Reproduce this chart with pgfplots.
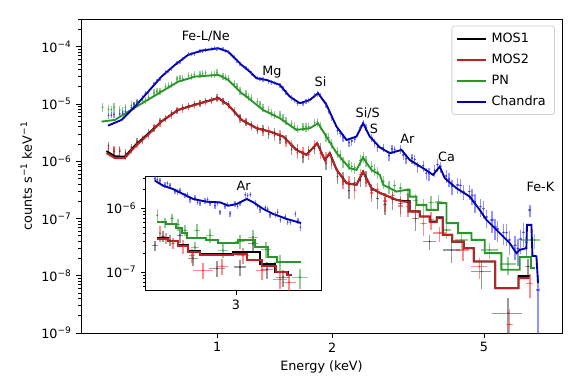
\documentclass[border=0pt]{standalone}
\usepackage{fontspec}
\setmainfont{DejaVu Sans}
\usepackage{pgfplots}
\usepackage{pgfplotstable}
\pgfplotsset{compat=1.18}

\definecolor{mosone}{RGB}{0,0,0}
\definecolor{mostwo}{RGB}{185,35,35}
\definecolor{pncol}{RGB}{40,150,40}
\definecolor{chancol}{RGB}{0,0,165}
\definecolor{chandat}{RGB}{40,40,255}
\definecolor{reddat}{RGB}{255,30,30}
\definecolor{greendat}{RGB}{40,150,40}
\definecolor{graydat}{RGB}{50,50,50}

\newcommand{\fs}{\fontsize{9.6pt}{11pt}\selectfont}

\pgfplotsset{
  datpts/.style={only marks, mark=*, mark size=0.55pt, mark options={opacity=0.5},
    error bars/x dir=both, error bars/x explicit relative,
    error bars/y dir=both, error bars/y explicit relative,
    error bars/error mark=none,
    error bars/error bar style={line width=1.0pt, opacity=0.5}},
}

% Chandra data: E F ex ey (relative errors)
\pgfplotstableread{
E F ex ey
0.519 6.32e-6 0 0.12
0.528 6.34e-6 0 0.12
0.537 6.52e-6 0 0.12
0.556 6.71e-6 0 0.12
0.566 6.89e-6 0 0.12
0.575 7.36e-6 0 0.11
0.596 8.65e-6 0 0.11
0.606 9.91e-6 0 0.10
0.617 1.052e-5 0 0.10
0.638 1.312e-5 0 0.09
0.649 1.53e-5 0 0.09
0.661 1.63e-5 0 0.09
0.684 2.26e-5 0 0.09
0.696 2.51e-5 0 0.09
0.708 2.73e-5 0 0.09
0.733 3.55e-5 0 0.08
0.746 3.84e-5 0 0.08
0.759 4.15e-5 0 0.08
0.785 5.26e-5 0 0.08
0.799 5.48e-5 0 0.08
0.813 6.11e-5 0 0.08
0.841 7.36e-5 0 0.08
0.856 7.46e-5 0 0.08
0.871 7.57e-5 0 0.08
0.902 8.34e-5 0 0.08
0.917 8.38e-5 0 0.08
0.933 8.93e-5 0 0.08
0.966 9.02e-5 0 0.08
0.983 9.38e-5 0 0.08
1.000 9.31e-5 0 0.08
1.035 9.02e-5 0 0.08
1.053 8.47e-5 0 0.08
1.072 8.05e-5 0 0.08
1.109 6.56e-5 0 0.08
1.128 5.71e-5 0 0.08
1.148 5.09e-5 0 0.08
1.189 4.29e-5 0 0.09
1.209 3.91e-5 0 0.09
1.230 3.44e-5 0 0.09
1.274 2.86e-5 0 0.09
1.296 2.74e-5 0 0.09
1.318 2.69e-5 0 0.09
1.365 2.48e-5 0 0.09
1.388 2.38e-5 0 0.09
1.413 2.33e-5 0 0.09
1.462 2.11e-5 0 0.10
1.488 1.88e-5 0 0.10
1.514 1.57e-5 0 0.10
1.567 1.28e-5 0 0.11
1.594 1.16e-5 0 0.11
1.622 1.03e-5 0 0.11
1.679 1.02e-5 0 0.11
1.708 1.11e-5 0 0.11
1.738 1.16e-5 0 0.11
1.799 1.40e-5 0 0.11
1.830 1.51e-5 0 0.11
1.862 1.42e-5 0 0.11
1.928 9.79e-6 0 0.12
1.961 7.59e-6 0 0.12
1.995 5.83e-6 0 0.13
2.065 3.44e-6 0.005 0.15
2.101 3.08e-6 0.005 0.15
2.138 2.58e-6 0.005 0.15
2.213 2.11e-6 0.005 0.17
2.252 2.24e-6 0.005 0.17
2.291 2.44e-6 0.005 0.15
2.371 3.86e-6 0.005 0.13
2.413 4.68e-6 0.005 0.13
2.455 3.88e-6 0.005 0.13
2.541 2.59e-6 0.005 0.15
2.585 2.09e-6 0.005 0.15
2.630 1.75e-6 0.005 0.17
2.723 1.72e-6 0.005 0.17
2.818 1.25e-6 0.005 0.20
2.868 1.64e-6 0.005 0.17
2.917 1.60e-6 0.005 0.17
3.020 1.63e-6 0.005 0.17
3.073 1.29e-6 0.006 0.20
3.126 1.10e-6 0.006 0.20
3.236 1.13e-6 0.006 0.20
3.292 1.07e-6 0.006 0.22
3.350 8.09e-7 0.006 0.22
3.467 8.38e-7 0.006 0.22
3.528 6.17e-7 0.007 0.25
3.589 6.11e-7 0.007 0.25
3.715 6.93e-7 0.007 0.25
3.780 8.71e-7 0.007 0.25
3.846 8.04e-7 0.007 0.22
3.981 5.51e-7 0.007 0.25
4.050 4.90e-7 0.008 0.27
4.121 3.68e-7 0.008 0.30
4.266 3.85e-7 0.008 0.30
4.340 3.80e-7 0.008 0.30
4.416 2.97e-7 0.008 0.30
4.571 2.95e-7 0.008 0.30
4.651 2.51e-7 0.009 0.32
4.732 1.95e-7 0.009 0.35
4.898 1.61e-7 0.009 0.35
4.983 1.48e-7 0.010 0.35
5.070 1.06e-7 0.010 0.35
5.248 9.46e-8 0.010 0.40
5.340 7.08e-8 0.010 0.40
5.433 6.55e-8 0.010 0.40
5.623 5.70e-8 0.010 0.40
5.722 5.62e-8 0.010 0.40
5.821 4.23e-8 0.010 0.45
6.026 3.41e-8 0.010 0.45
6.131 2.95e-8 0.010 0.50
6.237 4.37e-8 0.010 0.45
6.346 5.75e-8 0.010 0.45
6.457 3.82e-8 0.010 0.45
6.590 1.40e-7 0.010 0.25
6.918 5.6e-9 0.010 0.85
}\chandata

\pgfplotstableread{
E F ex ey
0.501 8.73e-6 0 0.18
0.519 8.05e-6 0 0.18
0.528 7.94e-6 0 0.18
0.537 8.69e-6 0 0.18
0.556 7.85e-6 0 0.17
0.566 7.53e-6 0 0.17
0.575 8.65e-6 0 0.17
0.596 9.51e-6 0 0.16
0.606 9.48e-6 0 0.16
0.617 1.04e-5 0 0.16
0.638 1.16e-5 0 0.15
0.649 1.16e-5 0 0.15
0.661 1.31e-5 0 0.15
0.684 1.58e-5 0 0.14
0.696 1.66e-5 0 0.14
0.708 1.69e-5 0 0.14
0.733 2.03e-5 0 0.14
0.746 2.08e-5 0 0.14
0.759 2.23e-5 0 0.14
0.785 2.74e-5 0 0.14
0.799 2.81e-5 0 0.14
0.813 2.77e-5 0 0.14
0.841 3.11e-5 0 0.14
0.856 3.08e-5 0 0.14
0.871 3.26e-5 0 0.14
0.902 3.26e-5 0 0.14
0.917 3.37e-5 0 0.14
0.933 3.47e-5 0 0.14
0.966 3.29e-5 0 0.14
0.983 3.24e-5 0 0.14
1.000 3.51e-5 0 0.14
1.035 3.06e-5 0 0.14
1.053 2.96e-5 0 0.14
1.072 2.77e-5 0 0.14
1.109 2.25e-5 0 0.14
1.128 2.01e-5 0 0.14
1.148 1.71e-5 0 0.15
1.189 1.50e-5 0 0.15
1.209 1.34e-5 0 0.15
1.230 1.28e-5 0 0.15
1.274 1.09e-5 0 0.15
1.296 9.89e-6 0 0.15
1.318 8.61e-6 0 0.15
1.365 7.85e-6 0 0.16
1.388 7.10e-6 0 0.16
1.413 6.55e-6 0 0.16
1.462 6.38e-6 0 0.16
1.488 5.77e-6 0 0.16
1.514 5.08e-6 0 0.17
1.567 4.53e-6 0 0.17
1.594 4.10e-6 0 0.17
1.622 3.70e-6 0 0.17
1.679 3.99e-6 0 0.17
1.708 3.95e-6 0 0.17
1.738 4.01e-6 0 0.17
1.799 4.74e-6 0 0.17
1.830 4.86e-6 0 0.17
1.862 4.16e-6 0 0.17
1.928 2.63e-6 0 0.19
1.961 2.57e-6 0 0.19
1.995 2.04e-6 0 0.19
2.065 1.46e-6 0.005 0.21
2.101 1.28e-6 0.005 0.21
2.138 9.75e-7 0.005 0.21
2.213 8.77e-7 0.005 0.21
2.252 8.13e-7 0.005 0.21
2.291 7.69e-7 0.005 0.21
2.371 1.04e-6 0.005 0.21
2.413 1.20e-6 0.005 0.21
2.455 1.02e-6 0.005 0.21
2.541 8.04e-7 0.006 0.23
2.585 7.24e-7 0.006 0.23
2.630 6.47e-7 0.006 0.23
2.723 4.43e-7 0.008 0.25
2.818 3.60e-7 0.008 0.25
2.917 3.77e-7 0.010 0.25
3.020 3.39e-7 0.010 0.25
3.162 2.65e-7 0.012 0.27
3.311 2.07e-7 0.015 0.30
3.467 1.67e-7 0.015 0.30
3.631 1.91e-7 0.020 0.30
3.802 1.94e-7 0.020 0.30
3.990 6.3e-8 0.030 0.30
4.360 4.23e-8 0.040 0.30
5.170 2.83e-8 0.050 0.30
5.780 1.6e-8 0.050 0.35
6.450 4.2e-8 0.030 0.35
6.790 4.2e-8 0.030 0.30
}\pndata

\pgfplotstableread{
E F ex ey
0.519 1.66e-6 0 0.18
0.537 1.55e-6 0 0.18
0.556 1.59e-6 0 0.18
0.575 1.30e-6 0 0.18
0.596 1.62e-6 0 0.16
0.617 2.02e-6 0 0.16
0.638 2.54e-6 0 0.15
0.661 2.86e-6 0 0.15
0.684 3.94e-6 0 0.14
0.708 4.61e-6 0 0.14
0.733 5.78e-6 0 0.13
0.759 6.32e-6 0 0.13
0.785 7.96e-6 0 0.13
0.813 8.11e-6 0 0.13
0.841 9.31e-6 0 0.13
0.871 9.53e-6 0 0.13
0.902 1.04e-5 0 0.13
0.933 1.06e-5 0 0.13
0.966 1.19e-5 0 0.13
1.000 1.24e-5 0 0.13
1.035 1.14e-5 0 0.13
1.072 9.25e-6 0 0.13
1.109 7.64e-6 0 0.14
1.148 5.51e-6 0 0.14
1.189 5.01e-6 0 0.15
1.230 4.02e-6 0 0.16
1.274 3.92e-6 0 0.16
1.318 3.29e-6 0 0.16
1.365 3.48e-6 0 0.16
1.413 2.80e-6 0 0.18
1.462 3.02e-6 0 0.18
1.514 2.15e-6 0 0.18
1.567 2.01e-6 0 0.18
1.622 1.41e-6 0 0.21
1.679 1.48e-6 0 0.21
1.738 1.33e-6 0 0.21
1.799 1.92e-6 0 0.21
1.862 1.37e-6 0 0.21
1.928 1.20e-6 0 0.21
1.995 9.53e-7 0 0.24
2.065 6.03e-7 0.005 0.25
2.138 4.33e-7 0.005 0.25
2.213 4.46e-7 0.005 0.25
2.291 3.11e-7 0.006 0.30
2.371 5.79e-7 0.006 0.25
2.455 4.82e-7 0.006 0.25
2.541 2.79e-7 0.008 0.30
2.630 3.23e-7 0.008 0.30
2.754 2.03e-7 0.010 0.35
2.884 2.53e-7 0.012 0.30
3.020 1.66e-7 0.015 0.35
3.162 1.62e-7 0.015 0.35
3.311 1.29e-7 0.020 0.35
3.467 8.13e-8 0.020 0.40
3.631 9.55e-8 0.020 0.35
3.830 5.54e-8 0.040 0.30
4.400 2.83e-8 0.040 0.35
4.860 1.45e-8 0.050 0.40
5.830 1.4e-9 0.020 0.85
6.590 7.4e-9 0.020 0.45
}\mostwodata

\pgfplotstableread{
E F ex ey
0.519 1.86e-6 0 0.18
0.537 1.48e-6 0 0.18
0.556 1.49e-6 0 0.18
0.575 1.39e-6 0 0.18
0.596 1.74e-6 0 0.16
0.617 2.16e-6 0 0.16
0.638 2.37e-6 0 0.15
0.661 3.13e-6 0 0.15
0.684 3.76e-6 0 0.14
0.708 5.06e-6 0 0.14
0.733 5.52e-6 0 0.13
0.759 6.93e-6 0 0.13
0.785 7.60e-6 0 0.13
0.813 8.69e-6 0 0.13
0.841 9.10e-6 0 0.13
0.871 9.98e-6 0 0.13
0.902 1.02e-5 0 0.13
0.933 1.14e-5 0 0.13
0.966 1.16e-5 0 0.13
1.000 1.30e-5 0 0.13
1.035 1.11e-5 0 0.13
1.072 9.91e-6 0 0.13
1.109 7.29e-6 0 0.14
1.148 5.90e-6 0 0.14
1.189 4.79e-6 0 0.15
1.230 4.41e-6 0 0.16
1.274 3.49e-6 0 0.16
1.318 3.69e-6 0 0.16
1.365 2.96e-6 0 0.16
1.413 3.21e-6 0 0.18
1.462 2.40e-6 0 0.18
1.514 2.47e-6 0 0.18
1.567 1.60e-6 0 0.21
1.622 1.62e-6 0 0.21
1.679 1.17e-6 0 0.21
1.738 1.53e-6 0 0.21
1.799 1.67e-6 0 0.21
1.862 1.69e-6 0 0.21
1.928 9.10e-7 0 0.24
1.995 1.09e-6 0 0.24
2.065 5.37e-7 0.005 0.25
2.138 5.20e-7 0.005 0.25
2.213 3.08e-7 0.006 0.30
2.291 4.20e-7 0.006 0.25
2.371 4.71e-7 0.006 0.25
2.455 5.41e-7 0.006 0.25
2.541 3.13e-7 0.008 0.30
2.630 2.23e-7 0.010 0.35
2.754 1.77e-7 0.010 0.35
2.884 2.15e-7 0.012 0.35
3.020 1.82e-7 0.015 0.35
3.162 1.91e-7 0.015 0.35
3.311 1.00e-7 0.020 0.40
3.600 3.95e-8 0.040 0.30
4.110 2.8e-8 0.050 0.40
4.930 1.18e-8 0.060 0.50
5.780 2.22e-9 0.090 0.85
6.520 1.45e-8 0.020 0.35
}\mosonedata

% inset data
\pgfplotstableread{
E F ex ey
2.437 2.93e-6 0 0.10
2.452 2.83e-6 0 0.10
2.468 2.72e-6 0 0.10
2.500 2.32e-6 0 0.10
2.516 2.47e-6 0 0.10
2.533 2.29e-6 0 0.10
2.565 1.84e-6 0 0.10
2.582 1.80e-6 0 0.10
2.598 1.90e-6 0 0.10
2.632 1.59e-6 0 0.10
2.649 1.64e-6 0 0.10
2.666 1.37e-6 0 0.10
2.700 1.45e-6 0 0.10
2.718 1.25e-6 0 0.10
2.736 1.20e-6 0 0.10
2.771 1.32e-6 0 0.10
2.789 1.37e-6 0 0.10
2.807 1.20e-6 0 0.10
2.843 1.10e-6 0 0.10
2.862 1.20e-6 0 0.10
2.880 8.7e-7 0 0.10
2.917 1.08e-6 0 0.10
2.936 1.15e-6 0 0.10
2.955 8.3e-7 0 0.11
2.993 1.18e-6 0 0.10
3.012 1.07e-6 0 0.10
3.032 1.20e-6 0 0.10
3.071 1.63e-6 0 0.10
3.091 1.59e-6 0 0.10
3.111 1.65e-6 0 0.10
3.151 1.22e-6 0 0.10
3.171 1.07e-6 0 0.10
3.191 9.5e-7 0 0.11
3.233 1.02e-6 0 0.11
3.254 9.77e-7 0 0.11
3.274 7.96e-7 0 0.11
3.317 8.0e-7 0 0.11
3.338 8.68e-7 0 0.11
3.360 6.6e-7 0 0.11
3.403 7.35e-7 0 0.11
3.425 6.08e-7 0 0.11
3.447 6.07e-7 0 0.11
3.492 8.16e-7 0 0.11
3.515 6.47e-7 0 0.11
3.537 5.06e-7 0 0.12
}\chaninset

\pgfplotstableread{
E F ex ey
2.452 7.78e-7 0.003 0.25
2.501 6.04e-7 0.005 0.18
2.546 6.98e-7 0.005 0.18
2.586 5.62e-7 0.005 0.20
2.632 4.53e-7 0.008 0.20
2.714 4.53e-7 0.008 0.25
2.807 3.79e-7 0.010 0.25
2.701 2.46e-7 0.010 0.20
2.902 2.21e-7 0.013 0.25
3.031 3.05e-7 0.013 0.25
3.134 3.52e-7 0.013 0.28
3.240 2.29e-7 0.013 0.28
3.359 1.43e-7 0.015 0.30
3.535 8.35e-8 0.020 0.35
}\pninset

\pgfplotstableread{
E F ex ey
2.469 4.07e-7 0.003 0.28
2.507 3.40e-7 0.005 0.20
2.553 2.84e-7 0.005 0.20
2.619 2.55e-7 0.008 0.25
2.680 1.84e-7 0.008 0.25
2.757 1.07e-7 0.026 0.28
2.895 1.24e-7 0.015 0.28
3.054 1.84e-7 0.015 0.28
3.207 1.07e-7 0.015 0.30
3.359 7.78e-8 0.018 0.30
3.437 6.98e-8 0.018 0.30
}\mostwoinset

\pgfplotstableread{
E F ex ey
2.437 2.64e-7 0.008 0.18
2.488 3.65e-7 0.005 0.20
2.533 3.16e-7 0.005 0.20
2.598 3.79e-7 0.008 0.25
2.686 1.65e-7 0.013 0.25
2.858 1.15e-7 0.020 0.28
3.031 1.20e-7 0.015 0.28
3.134 2.84e-7 0.013 0.30
3.248 1.11e-7 0.015 0.30
3.384 8.35e-8 0.018 0.30
}\mosoneinset

\begin{document}
\begin{tikzpicture}
\begin{axis}[
  xmode=log, ymode=log,
  scale only axis,
  width=360.75pt, height=235.5pt,
  xmin=0.44, xmax=8, ymin=1e-9, ymax=3.04e-4,
  tick align=outside, xtick pos=bottom, ytick pos=left,
  major tick length=3.6pt, minor tick length=2.1pt,
  major tick style={black, line width=0.6pt},
  minor tick style={black, line width=0.45pt},
  axis line style={line width=0.6pt},
  xminorticks=false,
  tick label style={font=\fs},
  label style={font=\fs},
  xtick={1,2,5}, xticklabels={1,2,5},
  ytick={1e-9,1e-8,1e-7,1e-6,1e-5,1e-4},
  yticklabels={10\textsuperscript{−9},10\textsuperscript{−8},10\textsuperscript{−7},10\textsuperscript{−6},10\textsuperscript{−5},10\textsuperscript{−4}},
  minor ytick={2e-9,3e-9,4e-9,5e-9,6e-9,7e-9,8e-9,9e-9,
    2e-8,3e-8,4e-8,5e-8,6e-8,7e-8,8e-8,9e-8,
    2e-7,3e-7,4e-7,5e-7,6e-7,7e-7,8e-7,9e-7,
    2e-6,3e-6,4e-6,5e-6,6e-6,7e-6,8e-6,9e-6,
    2e-5,3e-5,4e-5,5e-5,6e-5,7e-5,8e-5,9e-5,2e-4,3e-4},
  xlabel={Energy (keV)},
  ylabel={counts s\textsuperscript{−1} keV\textsuperscript{−1}},
  legend cell align=left,
  legend style={at={(0.9854,0.9787)}, anchor=north east, draw=black!18,
    line width=0.6pt, rounded corners=2pt, font=\fs,
    nodes={inner sep=3.6pt}, inner xsep=3pt, inner ysep=1.5pt},
  legend image code/.code={\draw[#1, line width=1.4pt] (0pt,0pt) -- (21.75pt,0pt);},
]
\addplot[color=graydat, datpts, forget plot] table[x=E, y=F, x error=ex, y error=ey] {\mosonedata};
\addplot[color=reddat, datpts, forget plot] table[x=E, y=F, x error=ex, y error=ey] {\mostwodata};
\addplot[color=greendat, datpts, forget plot] table[x=E, y=F, x error=ex, y error=ey] {\pndata};
\addplot[color=chandat, datpts, forget plot] table[x=E, y=F, x error=ex, y error=ey] {\chandata};

% MOS1 model
\addplot[color=mosone, no marks, line width=1.4pt] coordinates {
(0.513,1.50e-6) (0.540,1.22e-6) (0.573,1.20e-6) (0.610,1.90e-6) (0.659,3.00e-6)
(0.715,4.95e-6) (0.791,7.90e-6) (0.875,9.70e-6) (1.007,1.27e-5) (1.069,9.61e-6)
(1.159,5.26e-6) (1.268,3.77e-6) (1.374,3.29e-6) (1.489,2.69e-6) (1.614,1.57e-6)
(1.714,1.29e-6) (1.828,2.06e-6) (1.914,1.05e-6) (1.972,1.38e-6) (2.056,7.05e-7)
(2.183,4.13e-7) (2.317,3.86e-7) (2.410,6.58e-7) (2.535,3.38e-7) (2.667,2.80e-7)
(2.951,2.11e-7) (3.069,2.02e-7) (3.191,2.02e-7) (3.191,1.33e-7) (3.394,1.33e-7)
(3.394,1.08e-7) (3.605,1.08e-7) (3.605,8.8e-8) (3.76,8.8e-8) (3.76,1.05e-7)
(3.898,1.05e-7) (3.898,5.17e-8) (4.128,5.17e-8) (4.128,3.95e-8) (4.424,3.95e-8)
(4.424,3.03e-8) (4.699,3.03e-8) (4.699,1.77e-8) (5.350,1.77e-8) (5.350,6.07e-9)
(6.155,6.07e-9) (6.155,9.9e-9) (6.586,9.9e-9)
};
\addlegendentry{MOS1}
% MOS2 model
\addplot[color=mostwo, no marks, line width=1.4pt] coordinates {
(0.513,1.38e-6) (0.540,1.13e-6) (0.573,1.13e-6) (0.610,1.80e-6) (0.659,2.88e-6)
(0.715,4.91e-6) (0.791,7.85e-6) (0.875,9.61e-6) (1.007,1.26e-5) (1.069,9.61e-6)
(1.159,5.26e-6) (1.268,3.77e-6) (1.374,3.29e-6) (1.489,2.69e-6) (1.614,1.57e-6)
(1.714,1.29e-6) (1.828,2.06e-6) (1.914,1.05e-6) (1.972,1.38e-6) (2.056,7.05e-7)
(2.183,4.13e-7) (2.317,3.86e-7) (2.410,6.58e-7) (2.535,3.38e-7) (2.667,2.80e-7)
(2.951,2.11e-7) (3.069,1.97e-7) (3.195,1.97e-7) (3.195,1.32e-7) (3.394,1.32e-7)
(3.394,1.08e-7) (3.605,1.08e-7) (3.605,8.6e-8) (3.76,8.6e-8) (3.76,1.01e-7)
(3.898,1.01e-7) (3.898,5.17e-8) (4.128,5.17e-8) (4.128,3.95e-8) (4.424,3.95e-8)
(4.424,3.03e-8) (4.699,3.03e-8) (4.699,1.77e-8) (5.350,1.77e-8) (5.350,6.07e-9)
(6.155,6.07e-9) (6.155,9.08e-9) (6.586,9.08e-9)
};
\addlegendentry{MOS2}
% PN model
\addplot[color=pncol, no marks, line width=1.4pt] coordinates {
(0.498,4.91e-6) (0.540,5.26e-6) (0.585,7.34e-6) (0.647,1.10e-5) (0.715,1.64e-5)
(0.791,2.45e-5) (0.875,3.00e-5) (1.007,3.21e-5) (1.069,2.62e-5) (1.159,1.54e-5)
(1.194,1.34e-5) (1.318,7.86e-6) (1.459,5.63e-6) (1.614,3.52e-6) (1.750,3.77e-6)
(1.837,4.60e-6) (1.932,2.69e-6) (2.056,1.38e-6) (2.223,7.55e-7) (2.317,7.05e-7)
(2.410,1.16e-6) (2.535,7.05e-7) (2.667,5.77e-7) (2.723,3.86e-7) (2.951,2.95e-7)
(3.133,3.16e-7) (3.195,3.16e-7) (3.195,2.41e-7) (3.327,2.41e-7) (3.327,1.73e-7)
(3.533,1.73e-7) (3.533,1.41e-7) (3.789,1.41e-7) (3.789,1.85e-7) (3.986,1.85e-7)
(3.986,8.28e-8) (4.275,8.28e-8) (4.275,5.54e-8) (4.634,5.54e-8) (4.634,4.23e-8)
(5.022,4.23e-8) (5.022,2.48e-8) (5.552,2.48e-8) (5.552,1.27e-8) (6.200,1.27e-8)
(6.200,2.11e-8) (6.638,2.11e-8) (6.638,1.36e-8) (6.788,1.36e-8)
};
\addlegendentry{PN}
% Chandra model
\addplot[color=chancol, no marks, line width=1.4pt] coordinates {
(0.518,4.18e-6) (0.562,5.26e-6) (0.609,8.97e-6) (0.660,1.64e-5) (0.715,3.00e-5)
(0.775,4.79e-5) (0.839,7.16e-5) (0.910,8.51e-5) (1.006,9.38e-5) (1.068,8.18e-5)
(1.159,4.79e-5) (1.218,3.66e-5) (1.268,2.81e-5) (1.347,2.62e-5) (1.459,2.15e-5)
(1.550,1.34e-5) (1.646,1.03e-5) (1.748,1.17e-5) (1.838,1.54e-5) (1.934,9.61e-6)
(2.054,4.02e-6) (2.182,2.35e-6) (2.317,2.69e-6) (2.411,4.60e-6) (2.510,2.69e-6)
(2.667,1.74e-6) (2.832,1.38e-6) (3.039,1.57e-6) (3.195,1.05e-6) (3.461,7.55e-7)
(3.677,5.77e-7) (3.828,8.05e-7) (3.946,5.05e-7) (4.234,3.38e-7) (4.586,2.41e-7)
(4.872,1.41e-7) (5.073,9.45e-8) (5.496,5.54e-8) (5.838,3.71e-8) (6.078,2.48e-8)
(6.200,2.83e-8) (6.454,3.03e-8) (6.478,7.73e-8) (6.653,7.73e-8) (6.694,2.22e-8)
(6.857,2.19e-8) (6.924,7.43e-9)
};
\addlegendentry{Chandra}

\node[font=\fs] at (axis cs:0.934,1.48e-4) {Fe-L/Ne};
\node[font=\fs] at (axis cs:1.391,3.62e-5) {Mg};
\node[font=\fs] at (axis cs:1.865,2.42e-5) {Si};
\node[font=\fs] at (axis cs:2.480,6.97e-6) {Si/S};
\node[font=\fs] at (axis cs:2.572,3.66e-6) {S};
\node[font=\fs] at (axis cs:3.150,2.45e-6) {Ar};
\node[font=\fs] at (axis cs:3.986,1.19e-6) {Ca};
\node[font=\fs] at (axis cs:7.025,3.56e-7) {Fe-K};
\end{axis}

\begin{axis}[
  xmode=log, ymode=log,
  scale only axis,
  at={(48.5pt,32pt)}, anchor=south west,
  width=131.5pt, height=85.7pt,
  xmin=2.38, xmax=3.73, ymin=5.2e-8, ymax=3.2e-6,
  tick align=outside, xtick pos=bottom, ytick pos=left,
  major tick length=3.6pt, minor tick length=2.1pt,
  major tick style={black, line width=0.6pt},
  minor tick style={black, line width=0.45pt},
  axis line style={line width=0.6pt},
  xminorticks=false,
  tick label style={font=\fs},
  xtick={3}, xticklabels={3},
  ytick={1e-7,1e-6},
  yticklabels={10\textsuperscript{−7},10\textsuperscript{−6}},
  minor ytick={6e-8,7e-8,8e-8,9e-8,2e-7,3e-7,4e-7,5e-7,6e-7,7e-7,8e-7,9e-7,2e-6,3e-6},
  axis background/.style={fill=white},
]
\addplot[color=graydat, datpts] table[x=E, y=F, x error=ex, y error=ey] {\mosoneinset};
\addplot[color=reddat, datpts] table[x=E, y=F, x error=ex, y error=ey] {\mostwoinset};
\addplot[color=greendat, datpts] table[x=E, y=F, x error=ex, y error=ey] {\pninset};
\addplot[color=chandat, datpts] table[x=E, y=F, x error=ex, y error=ey] {\chaninset};
\addplot[color=mosone, no marks, line width=1.4pt] coordinates {
(2.452,3.40e-7) (2.520,3.40e-7) (2.520,3.05e-7) (2.586,3.05e-7) (2.586,2.64e-7)
(2.653,2.64e-7) (2.653,2.13e-7) (2.736,2.13e-7) (2.736,1.95e-7) (2.977,1.95e-7)
(2.977,2.05e-7) (3.191,2.05e-7) (3.191,1.33e-7) (3.316,1.33e-7) (3.316,1.0e-7)
(3.428,1.0e-7) (3.428,8.97e-8) (3.463,8.97e-8)
};
\addplot[color=mostwo, no marks, line width=1.4pt] coordinates {
(2.452,3.31e-7) (2.520,3.31e-7) (2.520,3.11e-7) (2.586,3.11e-7) (2.586,2.59e-7)
(2.653,2.59e-7) (2.653,2.05e-7) (2.736,2.05e-7) (2.736,1.85e-7) (2.977,1.85e-7)
(2.977,1.95e-7) (3.086,1.95e-7) (3.086,1.57e-7) (3.207,1.57e-7) (3.207,1.24e-7)
(3.324,1.24e-7) (3.324,1.0e-7) (3.419,1.0e-7) (3.419,9.14e-8) (3.463,9.14e-8)
};
\addplot[color=pncol, no marks, line width=1.4pt] coordinates {
(2.452,6.20e-7) (2.507,6.20e-7) (2.507,5.62e-7) (2.572,5.62e-7) (2.572,4.87e-7)
(2.612,4.87e-7) (2.612,4.07e-7) (2.646,4.07e-7) (2.646,3.40e-7) (2.778,3.40e-7)
(2.778,3.16e-7) (2.865,3.16e-7) (2.865,2.89e-7) (3.015,2.89e-7) (3.015,3.16e-7)
(3.150,3.16e-7) (3.150,2.46e-7) (3.257,2.46e-7) (3.257,1.71e-7) (3.333,1.71e-7)
(3.333,1.43e-7) (3.544,1.43e-7)
};
\addplot[color=chancol, no marks, line width=1.4pt] coordinates {
(2.437,2.71e-6) (2.489,2.26e-6) (2.554,2.00e-6) (2.620,1.67e-6) (2.689,1.40e-6)
(2.782,1.27e-6) (2.880,1.24e-6) (2.942,1.10e-6) (3.006,1.17e-6) (3.084,1.40e-6)
(3.137,1.24e-6) (3.218,9.75e-7) (3.301,8.15e-7) (3.417,6.81e-7) (3.544,5.89e-7)
};
\node[font=\fs] at (axis cs:3.06,2.29e-6) {Ar};
\end{axis}
\pgfresetboundingbox
\path (-60.75pt,-41.25pt) rectangle (375pt,249.75pt);
\end{tikzpicture}
\end{document}
